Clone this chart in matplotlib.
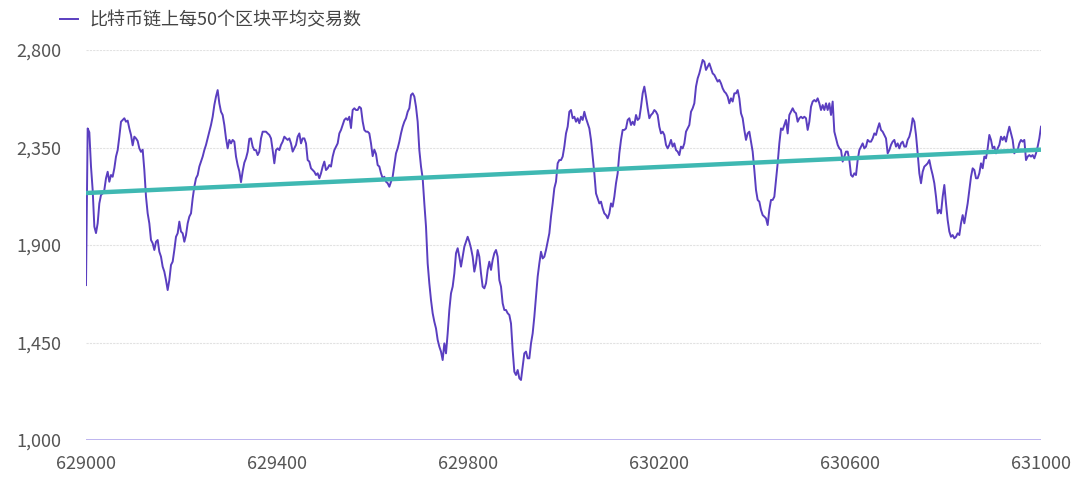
import matplotlib
matplotlib.use("Agg")
import matplotlib.pyplot as plt
import numpy as np

plt.rcParams['font.family'] = ['Noto Sans CJK SC', 'DejaVu Sans']

# 50-block rolling average of tx count (block 629000 -> 631000)
avg_tx = [
    1715,
    2438, 2420, 2262, 2154, 1985, 1955, 2000, 2092, 2131, 2138, 2154, 2208, 2238, 2192, 2223, 2215,
    2254, 2308, 2338, 2400, 2469, 2477, 2485, 2469, 2474, 2438, 2408, 2360, 2400, 2392, 2380, 2346,
    2330, 2340, 2246, 2123, 2046, 2000, 1923, 1908, 1877, 1915, 1923, 1869, 1846, 1800, 1777, 1738,
    1692, 1738, 1808, 1823, 1877, 1938, 1954, 2008, 1962, 1954, 1915, 1946, 2000, 2031, 2046, 2115,
    2169, 2208, 2223, 2262, 2285, 2308, 2338, 2362, 2392, 2423, 2454, 2492, 2546, 2585, 2615, 2554,
    2515, 2500, 2454, 2392, 2346, 2385, 2369, 2385, 2377, 2308, 2269, 2240, 2190, 2240, 2280, 2300,
    2330, 2390, 2392, 2354, 2338, 2338, 2315, 2331, 2392, 2423, 2423, 2423, 2415, 2408,
    # 629385 ->
    2392, 2338, 2277, 2338, 2346, 2338, 2362, 2377, 2400, 2392, 2385, 2392, 2369, 2331, 2346, 2362,
    2400, 2415, 2369, 2392, 2392, 2369, 2292, 2285, 2254, 2246, 2238, 2223, 2231, 2208, 2231, 2262,
    2285, 2246, 2254, 2269, 2262, 2308, 2338, 2354, 2369, 2415, 2431, 2454, 2477, 2485, 2477, 2492,
    2440, 2523, 2531, 2523, 2523, 2538, 2531, 2470, 2431, 2423, 2423, 2415, 2369, 2310, 2340, 2320,
    2269, 2262, 2231, 2208, 2215, 2192, 2185, 2169, 2192, 2215, 2269, 2323, 2346, 2377, 2415, 2446,
    2469, 2485, 2515, 2531, 2592, 2600, 2585, 2538, 2469, 2338, 2262, 2208, 2092, 1985, 1815, 1723,
    1646, 1585, 1546, 1515, 1462, 1431, 1408, 1369, 1446, 1400, 1492, 1600, 1677, 1708, 1769, 1862,
    1885, 1846,
    # 629783 ->
    1800, 1846, 1892, 1915, 1938, 1915, 1885, 1846, 1777, 1815, 1877, 1846, 1769, 1708, 1700, 1723,
    1785, 1823, 1785, 1831, 1862, 1877, 1846, 1738, 1708, 1631, 1600, 1600, 1585, 1577, 1538, 1415,
    1315, 1300, 1323, 1285, 1277, 1338, 1400, 1408, 1377, 1377, 1446, 1492, 1569, 1662, 1754, 1815,
    1869, 1838, 1846, 1877, 1915, 1954, 2031, 2092, 2162, 2192, 2277, 2292, 2292, 2308, 2354, 2415,
    2446, 2515, 2523, 2485, 2492, 2469, 2485, 2462, 2492, 2477, 2515, 2485, 2462, 2438, 2385, 2308,
    2231, 2138, 2115, 2092, 2100, 2069, 2046, 2038, 2023, 2046, 2092, 2077, 2123, 2185, 2231, 2323,
    2385, 2431, 2431, 2438, 2477, 2485, 2454, 2469, 2454, 2500, 2477, 2485, 2538, 2600, 2631, 2585,
    2531, 2485,
    # 630181 ->
    2500, 2508, 2523, 2515, 2500, 2446, 2415, 2423, 2408, 2362, 2346, 2362, 2385, 2354, 2369, 2338,
    2331, 2315, 2354, 2346, 2369, 2423, 2438, 2454, 2515, 2531, 2554, 2631, 2669, 2692, 2723, 2754,
    2746, 2708, 2723, 2738, 2715, 2692, 2685, 2669, 2654, 2662, 2646, 2623, 2608, 2600, 2585, 2554,
    2577, 2562, 2600, 2600, 2615, 2577, 2508, 2485, 2431, 2385, 2415, 2423, 2377, 2331, 2246, 2154,
    2108, 2100, 2062, 2038, 2031, 2023, 1992, 2062, 2108, 2108, 2123, 2200, 2277, 2369, 2438, 2431,
    2454, 2477, 2415, 2500, 2515, 2531, 2515, 2508, 2469, 2485, 2492, 2485, 2492, 2485, 2431, 2469,
    2538, 2562, 2569, 2562, 2577, 2554, 2523, 2546, 2523, 2554, 2523, 2554, 2500, 2562, 2423, 2392,
    2362, 2346, 2338, 2285, 2308,
    # 630589 ->
    2331, 2331, 2292, 2223, 2215, 2231, 2223, 2292, 2338, 2354, 2369, 2346, 2354, 2385, 2377, 2377,
    2392, 2415, 2408, 2438, 2462, 2431, 2423, 2408, 2392, 2323, 2338, 2362, 2377, 2385, 2354, 2369,
    2346, 2369, 2377, 2354, 2354, 2385, 2400, 2431, 2485, 2469, 2408, 2323, 2231, 2185, 2238, 2262,
    2269, 2277, 2292, 2254, 2223, 2185, 2123, 2046, 2062, 2046, 2123, 2177, 2092, 2015, 1962, 1938,
    1946, 1931, 1938, 1954, 1946, 2000, 2038, 2000, 2046, 2092, 2154, 2215, 2254, 2246, 2208, 2208,
    2231, 2277, 2254, 2308, 2300, 2346, 2408, 2385, 2346, 2354, 2323, 2346, 2362, 2400, 2385, 2400,
    2377, 2415, 2446, 2415, 2385, 2323, 2338, 2338, 2369, 2385, 2377, 2385, 2292, 2308, 2315, 2308,
    2315, 2300, 2323, 2354, 2392, 2446,
]
block_start = 629000
block_end = 631000
trend_start = 2140
trend_end = 2340

y_ticks = [1000, 1450, 1900, 2350, 2800]
x_ticks = [629000, 629400, 629800, 630200, 630600, 631000]
series_name = '比特币链上每50个区块平均交易数'

blocks = np.linspace(block_start, block_end, len(avg_tx))

fig = plt.figure(figsize=(10.8, 4.86), dpi=100)
ax = fig.add_axes([86 / 1080, 1 - 440 / 486, 955 / 1080, 390 / 486])

ax.plot(blocks, avg_tx, color='#5a3ec0', lw=1.4, label=series_name, zorder=3)
ax.plot([block_start, block_end], [trend_start, trend_end], color='#3fb8b2', lw=3.2,
        solid_capstyle='butt', zorder=4)

ax.set_xlim(block_start, block_end)
ax.set_ylim(1000, 2800)
ax.set_xticks(x_ticks)
ax.set_xticklabels([str(t) for t in x_ticks])
ax.set_yticks(y_ticks)
ax.set_yticklabels(['{:,}'.format(t) for t in y_ticks])
ax.tick_params(length=0, labelsize=13, colors='#555555')
ax.tick_params(axis='y', pad=18)
ax.tick_params(axis='x', pad=11)

for t in y_ticks[1:]:
    ax.axhline(t, color='#e2e2e2', lw=0.8, ls=(0, (2, 1)), zorder=1)
ax.axhline(1000, color='#b3a8ec', lw=1.2, zorder=2)
for s in ax.spines.values():
    s.set_visible(False)

leg = ax.legend(loc='upper left', bbox_to_anchor=(-42 / 955, 1.14), frameon=False,
                handlelength=1.0, handletextpad=0.6, fontsize=13)
for txt in leg.get_texts():
    txt.set_color('#444444')

fig.savefig('out.png', dpi=100)
